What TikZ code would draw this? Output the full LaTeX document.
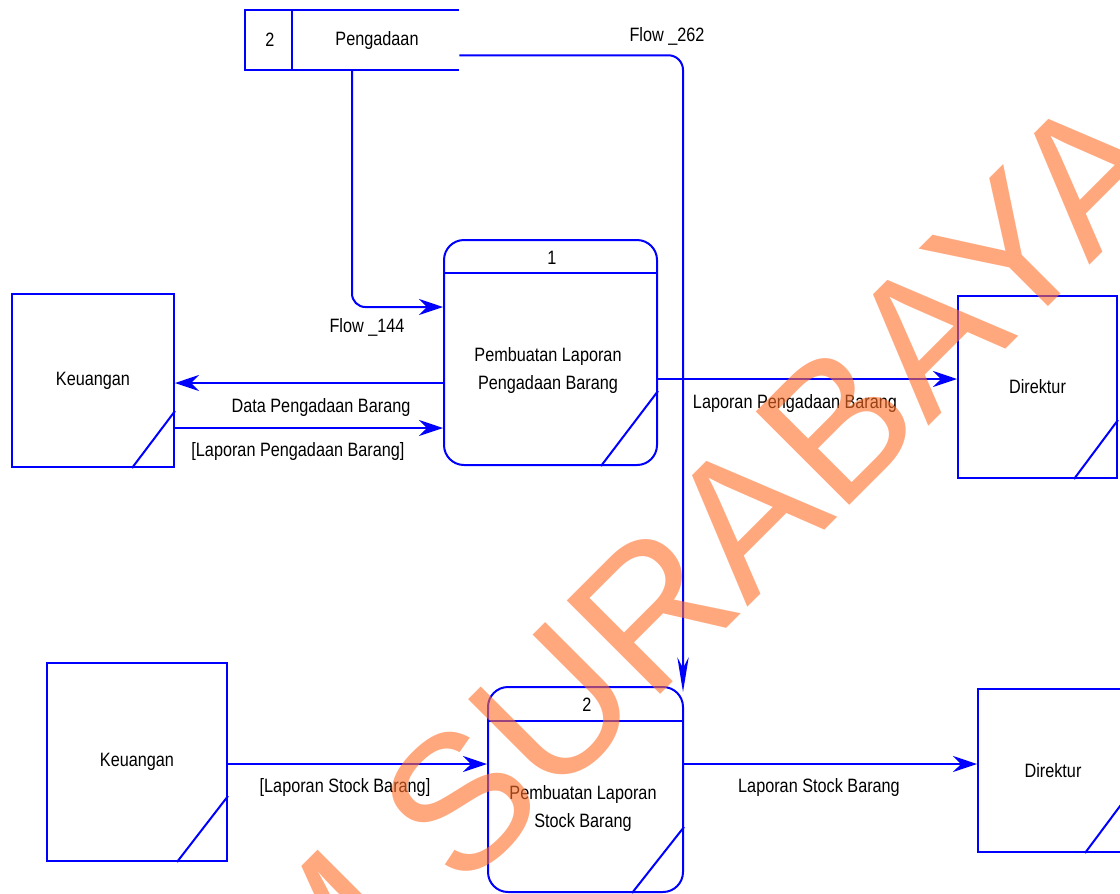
\documentclass[tikz,border=0pt]{standalone}
\usepackage{fontspec}
\usetikzlibrary{arrows.meta,calc}
\newfontfamily\dfont[FakeStretch=0.84]{Liberation Sans}
\newfontfamily\wfont{Liberation Sans}
\definecolor{dblue}{RGB}{0,0,255}
\definecolor{wmorange}{RGB}{255,110,40}
\begin{document}
\begin{tikzpicture}[x=0.75pt,y=-0.75pt,
  edge/.style={draw=dblue, line width=1.5pt},
  ent/.style={draw=dblue, line width=1.5pt, inner sep=0pt, font=\dfont\fontsize{14.5pt}{21pt}\selectfont, text=black},
  proc/.style={draw=dblue, line width=1.5pt, rounded corners=15pt, inner sep=0pt},
  lbl/.style={font=\dfont\fontsize{14.5pt}{21pt}\selectfont, inner sep=0pt, text=black},
  flow/.style={edge, -{Stealth[length=18pt,width=12pt,inset=6pt]}},
  flowv/.style={edge, -{Stealth[length=26pt,width=8.5pt,inset=8pt]}},
  wm/.style={font=\wfont\fontsize{144pt}{150pt}\selectfont, text=wmorange, text opacity=0.6, inner sep=0pt}]
\useasboundingbox (0,0) rectangle (1120,893);
\clip (0,0) rectangle (1120,893);
\fill[white] (0,0) rectangle (1120,893);

% external entities
\node[ent, minimum width=121.5pt, minimum height=129.75pt] (k1) at (93,380.5) {Keuangan};
\draw[edge] ($(k1.south east)+(-43,0)$) -- ($(k1.south east)+(0,-57)$);
\node[ent, minimum width=119.25pt, minimum height=136.5pt] (d1) at (1037.5,387) {Direktur};
\draw[edge] ($(d1.south east)+(-44,0)$) -- ($(d1.south east)+(0,-59)$);
\node[ent, minimum width=135pt, minimum height=148.5pt] (k2) at (137,762) {Keuangan};
\draw[edge] ($(k2.south east)+(-51,0)$) -- ($(k2.south east)+(0,-66)$);
\node[ent, minimum width=112.5pt, minimum height=122.25pt] (d2) at (1053,770.5) {Direktur};
\draw[edge] ($(d2.south east)+(-44,0)$) -- ($(d2.south east)+(0,-59)$);

% processes
\node[proc, minimum width=159.75pt, minimum height=168.75pt] (p1) at (550.5,352.5) {};
\draw[edge] ($(p1.north west)+(0,34)$) -- ($(p1.north east)+(0,34)$);
\draw[edge] ($(p1.south east)+(-57,0)$) -- ($(p1.south east)+(0,-75)$);
\node[lbl] (p1n) at (552,258) {1};
\node[lbl, align=center] (p1t) at (548,370) {Pembuatan Laporan\\Pengadaan Barang};

\node[proc, minimum width=146.25pt, minimum height=153.75pt] (p2) at (585.5,789.5) {};
\draw[edge] ($(p2.north west)+(0,35)$) -- ($(p2.north east)+(0,35)$);
\draw[edge] ($(p2.south east)+(-52,0)$) -- ($(p2.south east)+(0,-66)$);
\node[lbl] (p2n) at (587,705) {2};
\node[lbl, align=center] (p2t) at (583,808) {Pembuatan Laporan\\Stock Barang};

% data store
\node[inner sep=0pt, minimum width=160.5pt, minimum height=45pt] (st) at (352,40) {};
\draw[edge] (st.north east) -- (st.north west) -- (st.south west) -- (st.south east);
\draw[edge] ($(st.north west)+(47,0)$) -- ($(st.south west)+(47,0)$);
\node[lbl] (stn) at (270,40) {2};
\node[lbl] (stt) at (377,40) {Pengadaan};

% flows
\draw[flowv, rounded corners=11pt] ($(st.south east)+(0,-15)$) -| ($(p2.north east)+(-1,6)$);
\node[lbl] (f262) at (667,36) {Flow \_262};
\draw[flow, rounded corners=10pt] (st.south) |- ($(p1.north west)+(0,68)$);
\node[lbl] (f144) at (367,327) {Flow \_144};

\draw[flow] (p1.west |- 0,383) -- (k1.east |- 0,383);
\node[lbl] (l1) at (321,407) {Data Pengadaan Barang};
\draw[flow] (k1.east |- 0,428) -- (p1.west |- 0,428);
\node[lbl] (l2) at (298,451) {[Laporan Pengadaan Barang]};
\draw[flow] (p1.east |- 0,379) -- (d1.west |- 0,379);
\node[lbl] (l3) at (795,403) {Laporan Pengadaan Barang};
\draw[flow] (k2.east |- 0,764) -- (p2.west |- 0,764);
\node[lbl] (l4) at (345,787) {[Laporan Stock Barang]};
\draw[flow] (p2.east |- 0,764) -- (d2.west |- 0,764);
\node[lbl] (l5) at (819,787) {Laporan Stock Barang};

% watermark
\node[wm, anchor=base west, rotate=45] (wmB) at (461,894) {SURABAYA};
\node[wm, anchor=base east, rotate=45] (wmA) at (423,932) {STIKOM};
\end{tikzpicture}
\end{document}
